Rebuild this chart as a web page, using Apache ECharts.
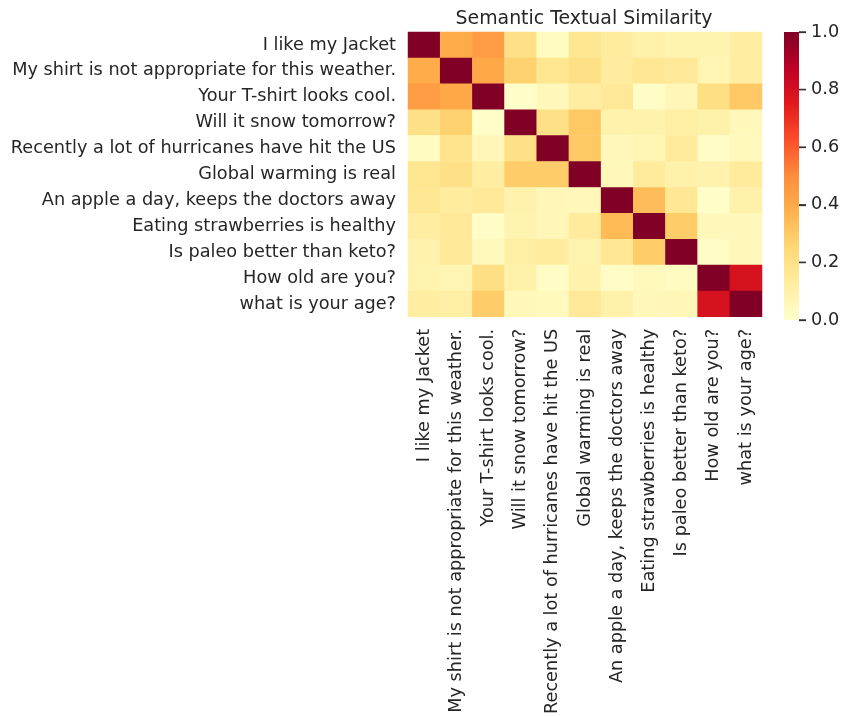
<!DOCTYPE html>
<html>
<head>
<meta charset="utf-8">
<script src="https://cdn.jsdelivr.net/npm/echarts@6/dist/echarts.min.js"></script>
<style>
  html, body { margin: 0; padding: 0; background: #ffffff; }
  #chart { width: 843px; height: 717px; }
</style>
</head>
<body>
<div id="chart"></div>
<script>
// Sentences compared pairwise
const sentences = [
  "I like my Jacket",
  "My shirt is not appropriate for this weather.",
  "Your T-shirt looks cool.",
  "Will it snow tomorrow?",
  "Recently a lot of hurricanes have hit the US",
  "Global warming is real",
  "An apple a day, keeps the doctors away",
  "Eating strawberries is healthy",
  "Is paleo better than keto?",
  "How old are you?",
  "what is your age?"
];

// Similarity rows, one per sentence (same order as columns)
const row0  = [1.00, 0.40, 0.45, 0.20, 0.03, 0.17, 0.13, 0.10, 0.08, 0.08, 0.12];
const row1  = [0.40, 1.00, 0.41, 0.27, 0.17, 0.20, 0.13, 0.16, 0.15, 0.07, 0.12];
const row2  = [0.45, 0.41, 1.00, 0.01, 0.05, 0.12, 0.15, 0.02, 0.06, 0.21, 0.30];
const row3  = [0.20, 0.27, 0.01, 1.00, 0.20, 0.30, 0.09, 0.09, 0.11, 0.10, 0.05];
const row4  = [0.03, 0.18, 0.06, 0.20, 1.00, 0.30, 0.05, 0.07, 0.14, 0.02, 0.04];
const row5  = [0.17, 0.20, 0.12, 0.29, 0.29, 1.00, 0.05, 0.14, 0.10, 0.09, 0.14];
const row6  = [0.16, 0.13, 0.15, 0.09, 0.06, 0.05, 1.00, 0.34, 0.16, 0.01, 0.10];
const row7  = [0.12, 0.15, 0.02, 0.08, 0.06, 0.14, 0.35, 1.00, 0.29, 0.05, 0.05];
const row8  = [0.09, 0.15, 0.04, 0.11, 0.13, 0.08, 0.16, 0.29, 1.00, 0.02, 0.05];
const row9  = [0.08, 0.07, 0.21, 0.10, 0.02, 0.09, 0.02, 0.04, 0.03, 1.00, 0.79];
const row10 = [0.12, 0.11, 0.29, 0.05, 0.04, 0.15, 0.10, 0.05, 0.06, 0.79, 1.00];
const similarity = [row0, row1, row2, row3, row4, row5, row6, row7, row8, row9, row10];

// Colour scale range and its tick labels
const scaleMin = 0.0;
const scaleMax = 1.0;
const colorbarTicks = [0.0, 0.2, 0.4, 0.6, 0.8, 1.0];

// YlOrRd colour ramp
const ylOrRd = ["#ffffcc", "#ffeda0", "#fed976", "#feb24c", "#fd8d3c",
                "#fc4e2a", "#e31a1c", "#bd0026", "#800026"];

const cells = [];
similarity.forEach((row, r) => row.forEach((v, c) => cells.push([c, r, v])));

// vertical gradient for the colour bar: bottom = scaleMin, top = scaleMax
const barGradient = new echarts.graphic.LinearGradient(0, 1, 0, 0,
  ylOrRd.map((c, i) => ({ offset: i / (ylOrRd.length - 1), color: c })));

const FONT = "DejaVu Sans";
const TEXT = "#262626";
const LABEL_SIZE = 17.7;
const isTick = v => colorbarTicks.some(t => Math.abs(t - v) < 1e-9);

const chart = echarts.init(document.getElementById("chart"), null, { renderer: "canvas" });
chart.setOption({
  animation: false,
  backgroundColor: "#ffffff",
  title: {
    text: "Semantic Textual Similarity",
    left: 579, top: 5, textAlign: "center",
    textStyle: { fontFamily: FONT, fontSize: 18.9, fontWeight: "normal", color: TEXT }
  },
  grid: [
    { left: 408, top: 32, width: 354, height: 287.5 },   // heatmap
    { left: 784, top: 32, width: 15, height: 288 }       // colour bar
  ],
  xAxis: [
    {
      type: "category", data: sentences, gridIndex: 0, position: "bottom",
      axisLine: { show: false }, axisTick: { show: false }, splitLine: { show: false },
      axisLabel: { interval: 0, rotate: 90, margin: 12, fontFamily: FONT, fontSize: LABEL_SIZE, color: TEXT, hideOverlap: false }
    },
    { type: "category", gridIndex: 1, data: ["scale"], show: false }
  ],
  yAxis: [
    {
      type: "category", data: sentences, gridIndex: 0, inverse: true,
      axisLine: { show: false }, axisTick: { show: false }, splitLine: { show: false },
      axisLabel: { interval: 0, margin: 12, fontFamily: FONT, fontSize: LABEL_SIZE, color: TEXT, hideOverlap: false }
    },
    {
      // colour-bar scale: a short tick mark followed by the value
      type: "value", gridIndex: 1, position: "right",
      min: scaleMin, max: scaleMax, interval: 0.2,
      axisLine: { show: false }, splitLine: { show: false },
      axisTick: { show: true, inside: false, length: 7, lineStyle: { color: "#333333", width: 1.3 } },
      axisLabel: {
        margin: 0, fontFamily: FONT, fontSize: LABEL_SIZE, color: TEXT,
        formatter: v => (isTick(v) ? "{tk| }{num|" + v.toFixed(1) + "}" : ""),
        rich: {
          tk: { width: 7, height: 1.4, lineHeight: 1.4, fontSize: 2, backgroundColor: "#333333", verticalAlign: "middle" },
          num: { fontFamily: FONT, fontSize: LABEL_SIZE, color: TEXT, padding: [0, 0, 0, 5], verticalAlign: "middle" }
        }
      }
    }
  ],
  visualMap: {
    type: "continuous", min: scaleMin, max: scaleMax, seriesIndex: 0, show: false,
    inRange: { color: ylOrRd }
  },
  series: [
    {
      type: "heatmap", xAxisIndex: 0, yAxisIndex: 0, data: cells,
      itemStyle: { borderWidth: 0 },
      emphasis: { disabled: true }
    },
    {
      type: "bar", xAxisIndex: 1, yAxisIndex: 1, data: [scaleMax],
      barWidth: "100%", silent: true,
      itemStyle: { color: barGradient, borderWidth: 0 }
    }
  ]
});
</script>
</body>
</html>
